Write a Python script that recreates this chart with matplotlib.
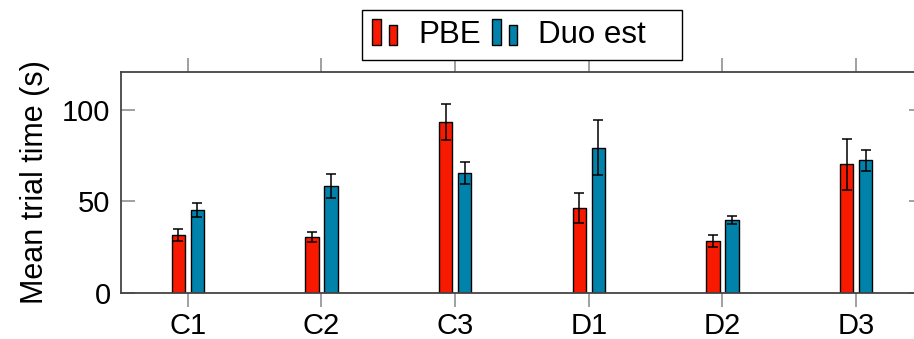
import numpy as np
from matplotlib import pyplot as plt
from matplotlib.patches import Rectangle

plt.rcParams['font.family'] = ['Liberation Sans', 'DejaVu Sans']

# data
groups = ['C1', 'C2', 'C3', 'D1', 'D2', 'D3']
pbe = [31.5, 30.4, 93.2, 46.2, 28.4, 70.2]
pbe_err = [3.3, 2.8, 10.0, 8.1, 3.1, 14.0]
duo = [45.4, 58.3, 65.4, 79.2, 40.0, 72.3]
duo_err = [3.7, 6.5, 5.9, 15.0, 2.2, 5.6]
yticks = [0, 50, 100]

red = '#f81a00'
blue = '#0082aa'


class TwoBarHandler(object):
    # legend handle drawn as two small bars, like pgfplots ybar legend
    def legend_artist(self, legend, orig_handle, fontsize, handlebox):
        x0, y0 = -handlebox.xdescent, -handlebox.ydescent
        w, h = handlebox.width, handlebox.height
        fc = orig_handle.get_facecolor()
        r1 = Rectangle((x0, y0 - 0.1 * h), 0.36 * w, 1.2 * h, facecolor=fc,
                       edgecolor='black', lw=1, transform=handlebox.get_transform())
        r2 = Rectangle((x0 + 0.68 * w, y0 - 0.1 * h), 0.32 * w, 0.92 * h, facecolor=fc,
                       edgecolor='black', lw=1, transform=handlebox.get_transform())
        handlebox.add_artist(r1)
        handlebox.add_artist(r2)
        return r1


fig = plt.figure(figsize=(9.14, 3.39), dpi=100)
ax = fig.add_axes([121 / 914, 46 / 339, 802 / 914, 221 / 339])

x = np.arange(len(groups))
off = 0.07
w = 0.1
ekw = dict(ecolor='black', elinewidth=1.1, capsize=3.6, capthick=1.1)
b1 = ax.bar(x - off, pbe, w, color=red, edgecolor='black', lw=1,
            yerr=pbe_err, error_kw=ekw, label='PBE', zorder=2)
b2 = ax.bar(x + off, duo, w, color=blue, edgecolor='black', lw=1,
            yerr=duo_err, error_kw=ekw, label='Duo est', zorder=2)

ax.set_xlim(-0.5, len(groups) - 0.5)
ax.set_ylim(0, 120.5)
ax.set_xticks(x)
ax.set_xticklabels(groups)
ax.set_yticks(yticks)
ax.tick_params(axis='x', direction='out', top=True, length=10, width=1.3,
               color='#999999', labelsize=21, pad=4)
ax.tick_params(axis='y', direction='in', right=True, length=10, width=1.3,
               color='#999999', labelsize=21, pad=7.5)
for s in ax.spines.values():
    s.set_color('#444444')
    s.set_linewidth(1.3)
ax.set_ylabel('Mean trial time (s)', fontsize=22, labelpad=9)

leg = ax.legend(handles=[b1.patches[0], b2.patches[0]], labels=['PBE', 'Duo est   '],
                handler_map={Rectangle: TwoBarHandler()},
                ncol=2, loc='lower center', bbox_to_anchor=(0.5, 1.053),
                borderaxespad=0, fontsize=22.5, fancybox=False, framealpha=1,
                edgecolor='black', handlelength=0.8, handleheight=0.7,
                handletextpad=0.67, columnspacing=0.38, borderpad=0.32)
leg.get_frame().set_linewidth(1)

fig.savefig('out.png', dpi=100)
